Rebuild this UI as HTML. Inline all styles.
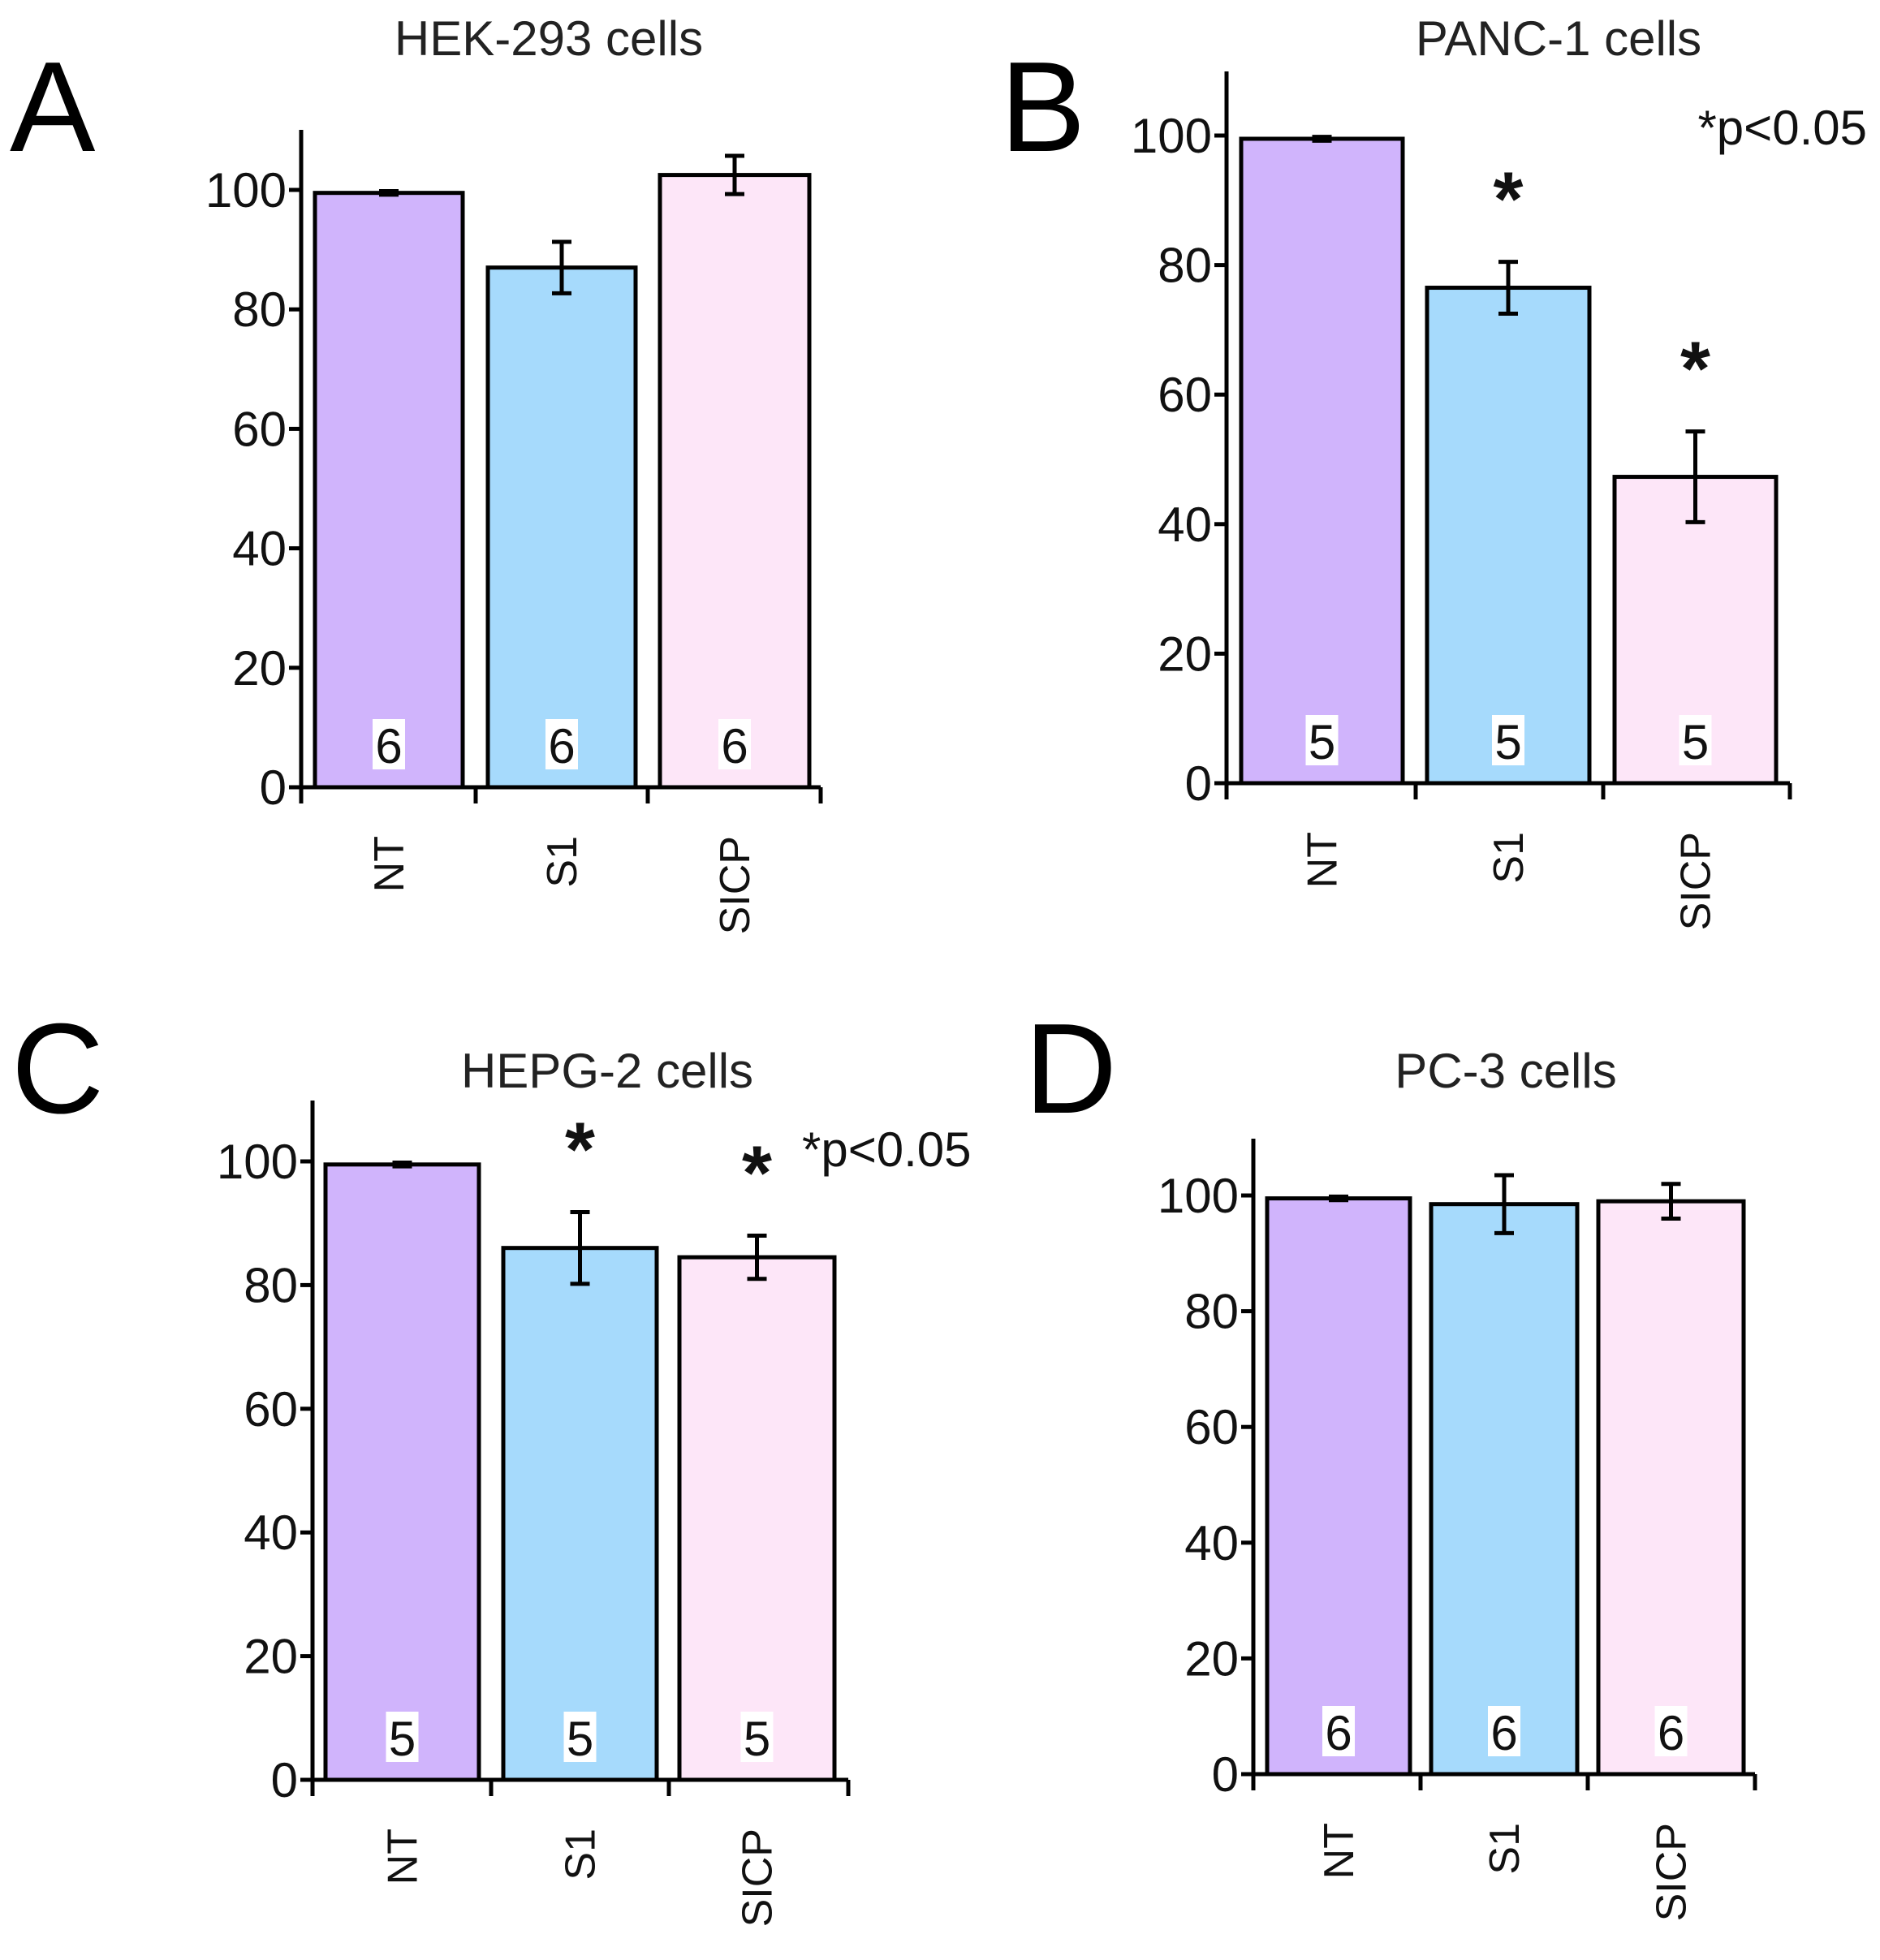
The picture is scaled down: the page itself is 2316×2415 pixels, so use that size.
<!DOCTYPE html>
<html><head><meta charset="utf-8"><style>
html,body{margin:0;padding:0;background:#fff;}
svg{display:block;font-family:"Liberation Sans",Arial,sans-serif;}
</style></head><body>
<svg id="fig" width="2316" height="2415" viewBox="0 0 2316 2415" xmlns="http://www.w3.org/2000/svg"></svg>
<script>
const categories = ["NT","S1","SICP"];
const yTicks = [0,20,40,60,80,100];
const valsA = [99.5, 87, 102.5];
const errA  = [0.3, 4.3, 3.2];
const nA    = ["6","6","6"];
const valsB = [99.5, 76.5, 47.3];
const errB  = [0.3, 4.0, 7.0];
const nB    = ["5","5","5"];
const starsB = [false, true, true];
const valsC = [99.5, 86, 84.5];
const errC  = [0.3, 5.8, 3.5];
const nC    = ["5","5","5"];
const starsC = [false, true, true];
const valsD = [99.5, 98.5, 99];
const errD  = [0.3, 5.0, 3.0];
const nD    = ["6","6","6"];
const colors = ["#d0b4fc","#a6dafc","#fde6f8"];

const NS = "http://www.w3.org/2000/svg";
const svg = document.getElementById("fig");
function mk(tag, attrs, parent, text){
  const e = document.createElementNS(NS, tag);
  for (const k in attrs) e.setAttribute(k, attrs[k]);
  if (text !== undefined) e.textContent = text;
  (parent||svg).appendChild(e);
  return e;
}

const panels = [
  {key:"a", letter:"A", lx:12, ly:186, title:"HEK-293 cells", tx:676, ty:68,
   ax:371, y0:970, y100:234, ytop:160, xend:1011, ticksX:[371,586,798,1011],
   bars:[[388,570],[601,783],[813,997]], vals:valsA, errs:errA, ns:nA, stars:null},
  {key:"b", letter:"B", lx:1232, ly:186, title:"PANC-1 cells", tx:1920, ty:68,
   ax:1511, y0:965, y100:167, ytop:88, xend:2205, ticksX:[1511,1744,1975,2205],
   bars:[[1529,1728],[1758,1958],[1989,2188]], vals:valsB, errs:errB, ns:nB, stars:starsB,
   p:{x:2300, y:178, anchor:"end"}},
  {key:"c", letter:"C", lx:14, ly:1371, title:"HEPG-2 cells", tx:748, ty:1340,
   ax:385, y0:2193, y100:1431, ytop:1356, xend:1045, ticksX:[385,605,824,1045],
   bars:[[401,590],[620,809],[837,1028]], vals:valsC, errs:errC, ns:nC, stars:starsC,
   p:{x:988, y:1437, anchor:"start"}},
  {key:"d", letter:"D", lx:1262, ly:1371, title:"PC-3 cells", tx:1855, ty:1340,
   ax:1544, y0:2186, y100:1473, ytop:1403, xend:2162, ticksX:[1544,1750,1956,2162],
   bars:[[1561,1737],[1763,1943],[1969,2148]], vals:valsD, errs:errD, ns:nD, stars:null}
];

panels.forEach(P => {
  const g = mk("g", {});
  
  
  const yS = v => P.y0 + (P.y100 - P.y0) * v / 100;

  const L = mk("text", {x:P.lx, y:P.ly, "font-size":158, fill:"#000"}, g, P.letter);
  
  

  const T = mk("text", {x:P.tx, y:P.ty, "font-size":60, "text-anchor":"middle", fill:"#222"}, g, P.title);
  
  

  P.vals.forEach((v, i) => {
    const [x1, x2] = P.bars[i];
    const yt = yS(v);
    const r = mk("rect", {x:x1, y:yt, width:x2-x1, height:P.y0-yt, fill:colors[i], stroke:"#000", "stroke-width":5}, g);
    
    
    const cx = (x1 + x2) / 2;
    const e = P.errs[i];
    const eg = mk("g", {stroke:"#000", "stroke-width":5}, g);
    
    
    mk("line", {x1:cx, x2:cx, y1:yS(v+e), y2:yS(v-e)}, eg);
    mk("line", {x1:cx-12, x2:cx+12, y1:yS(v+e), y2:yS(v+e)}, eg);
    mk("line", {x1:cx-12, x2:cx+12, y1:yS(v-e), y2:yS(v-e)}, eg);
    const bx = mk("rect", {x:cx-20, y:P.y0-84, width:40, height:62, fill:"#fff"}, g);
    
    
    const nt = mk("text", {x:cx, y:P.y0-30, "font-size":60, "text-anchor":"middle", fill:"#111"}, g, P.ns[i]);
    
    
    if (P.stars && P.stars[i]) {
      const st = mk("text", {x:cx, y:yS(v+e) - 45, "font-size":95, "font-weight":"bold", "text-anchor":"middle", fill:"#111"}, g, "*");
      
      
    }
    const cl = mk("text", {x:0, y:0, "font-size":52, "text-anchor":"end", fill:"#111",
      transform:"translate(" + (cx + 18) + "," + (P.y0 + 60) + ") rotate(-90)"}, g, categories[i]);
    
    
  });

  const ag = mk("g", {stroke:"#000", "stroke-width":5, fill:"none"}, g);
  
  
  mk("line", {x1:P.ax, x2:P.ax, y1:P.ytop, y2:P.y0 + 20}, ag);
  mk("line", {x1:P.ax, x2:P.xend, y1:P.y0, y2:P.y0}, ag);
  P.ticksX.forEach(tx => mk("line", {x1:tx, x2:tx, y1:P.y0, y2:P.y0 + 20}, ag));
  yTicks.forEach(t => {
    mk("line", {x1:P.ax - 15, x2:P.ax, y1:yS(t), y2:yS(t)}, ag);
    const tl = mk("text", {x:P.ax - 18, y:yS(t) + 21, "font-size":60, "text-anchor":"end", fill:"#111"}, g, String(t));
    
    
  });

  if (P.p) {
    const pt = mk("text", {x:P.p.x, y:P.p.y, "font-size":60, "text-anchor":P.p.anchor, fill:"#111"}, g, "*p<0.05");
    
    
  }
});
</script>
</body></html>
